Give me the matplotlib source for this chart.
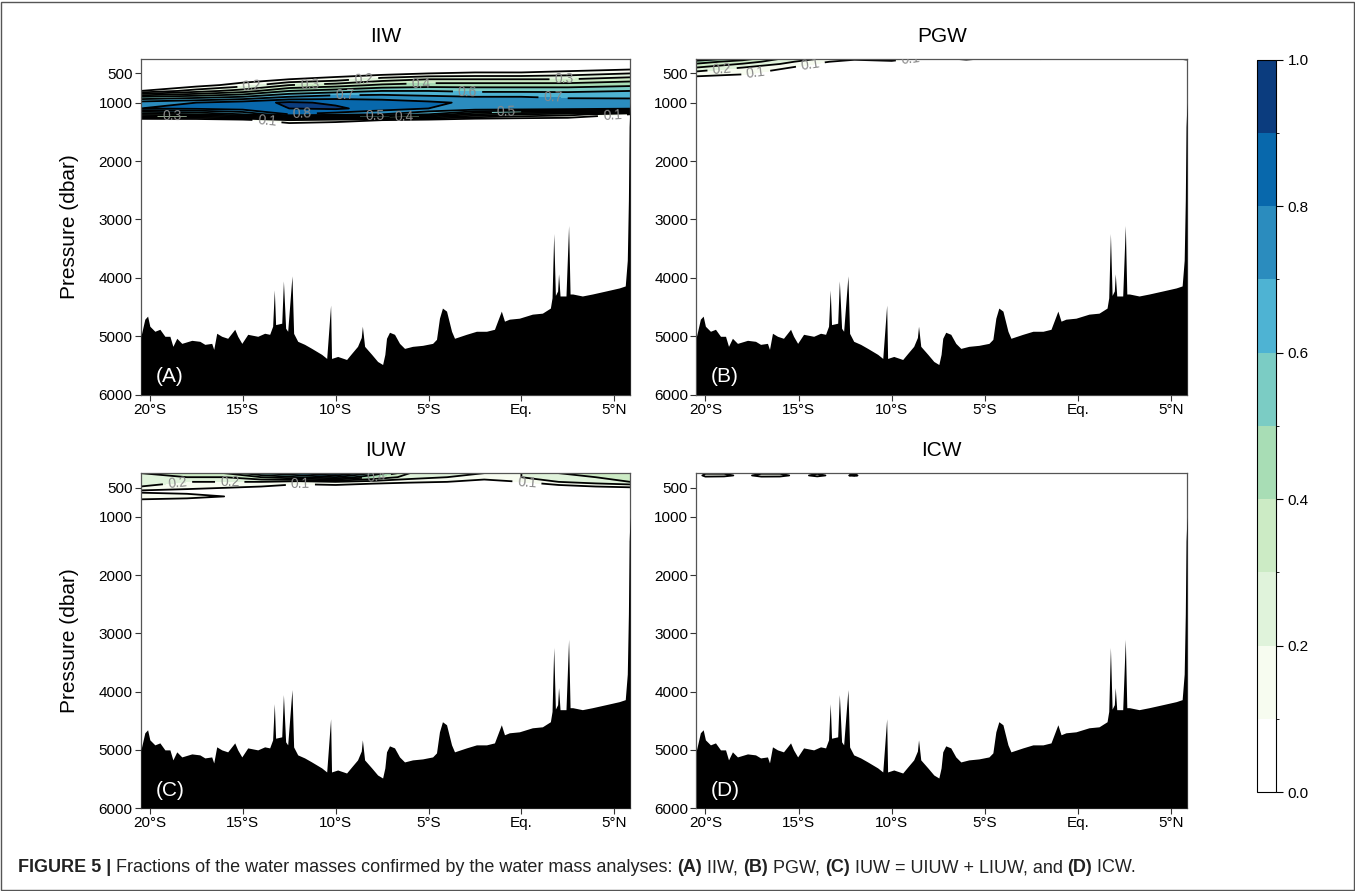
import numpy as np
import matplotlib.pyplot as plt
from matplotlib.colors import ListedColormap, BoundaryNorm
from matplotlib.cm import ScalarMappable
from matplotlib.patches import Rectangle

plt.rcParams['font.family'] = ['Liberation Sans', 'DejaVu Sans']

# Bathymetry along the section (latitude, bottom pressure in dbar)
bathy_lat = [-20.48, -20.27, -20.12, -20.0, -19.73, -19.46, -19.19, -18.92, -18.76, -18.55,
             -18.28, -17.74, -17.31, -17.04, -16.67, -16.56, -16.40, -16.13, -15.81, -15.43,
             -15.27, -15.05, -14.73, -14.19, -13.82, -13.55, -13.39, -13.30, -13.23, -12.90,
             -12.81, -12.69, -12.58, -12.35, -12.26, -12.04, -11.67, -11.29, -10.75, -10.48,
             -10.27, -10.22, -9.89, -9.41, -9.14, -8.82, -8.62, -8.56, -8.50, -8.44, -8.06, -7.74,
             -7.47, -7.35, -7.26, -7.10, -6.83, -6.56, -6.29, -5.86, -5.32, -4.78,
             -4.57, -4.41, -4.25, -4.03, -3.76, -3.60, -2.96, -2.42, -1.88, -1.45,
             -1.08, -0.91, -0.65, -0.11, 0.59, 1.13, 1.56, 1.65, 1.74, 1.83,
             1.95, 2.00, 2.08, 2.40, 2.54, 2.62, 2.76, 3.28, 3.82, 4.55,
             5.27, 5.59, 5.70, 5.76, 5.80, 5.85]
bathy_p = [5000, 4707, 4655, 4828, 4914, 4880, 5000, 5000, 5172, 5034,
           5121, 5069, 5086, 5138, 5121, 5224, 4948, 5000, 5034, 4880,
           5000, 5121, 4966, 5000, 4948, 4966, 4828, 4207, 4800, 4776,
           4052, 4862, 4914, 3966, 4950, 5086, 5138, 5207, 5310, 5379,
           4466, 5379, 5345, 5397, 5293, 5172, 5020, 4828, 5000, 5172, 5310, 5431,
           5483, 5310, 5034, 4931, 4966, 5121, 5207, 5172, 5155, 5121,
           5052, 4690, 4517, 4569, 4914, 5034, 4966, 4914, 4914, 4880,
           4569, 4741, 4707, 4690, 4621, 4604, 4517, 4340, 3241, 4300,
           4224, 3931, 4310, 4310, 3103, 4276, 4276, 4310, 4276, 4224,
           4172, 4138, 3700, 2672, 1414, 1000]

# IIW fraction
iiw_lat = [-20.5, -17.5, -15, -12.5, -10, -7.5, -5, -2.5, 0, 2.5, 5.85]
iiw_p = [250, 400, 500, 600, 700, 800, 900, 1000, 1100, 1200, 1300, 1400, 6000]
iiw_frac = [
    [0, 0, 0, 0, 0, 0, 0, 0, 0, 0, 0],
    [0, 0, 0, 0, 0, 0, 0, 0, 0, 0.02, 0.05],
    [0, 0, 0, 0, 0.02, 0.05, 0.1, 0.12, 0.12, 0.15, 0.2],
    [0, 0, 0.03, 0.1, 0.15, 0.25, 0.3, 0.3, 0.3, 0.3, 0.35],
    [0, 0.05, 0.15, 0.3, 0.35, 0.42, 0.45, 0.45, 0.45, 0.45, 0.48],
    [0.1, 0.25, 0.35, 0.5, 0.55, 0.6, 0.6, 0.58, 0.58, 0.58, 0.6],
    [0.5, 0.55, 0.6, 0.7, 0.75, 0.75, 0.72, 0.7, 0.7, 0.68, 0.68],
    [0.75, 0.8, 0.85, 0.92, 0.88, 0.85, 0.82, 0.78, 0.77, 0.76, 0.75],
    [0.8, 0.82, 0.85, 0.9, 0.92, 0.85, 0.8, 0.78, 0.78, 0.76, 0.72],
    [0.45, 0.5, 0.6, 0.8, 0.75, 0.7, 0.6, 0.4, 0.3, 0.25, 0.1],
    [0, 0, 0.05, 0.2, 0.15, 0.1, 0.05, 0, 0, 0, 0],
    [0, 0, 0, 0, 0, 0, 0, 0, 0, 0, 0],
    [0, 0, 0, 0, 0, 0, 0, 0, 0, 0, 0],
]

# PGW fraction
pgw_lat = [-20.5, -18, -16, -14, -12, -10, -8, -6, -4, -2, 0, 2, 4, 5.85]
pgw_p = [250, 300, 400, 500, 600, 700, 6000]
pgw_frac = [
    [0.6, 0.45, 0.3, 0.2, 0.12, 0.15, 0.05, 0.12, 0.05, 0.11, 0, 0, 0, 0.12],
    [0.45, 0.35, 0.25, 0.12, 0.06, 0.08, 0, 0.05, 0, 0.02, 0, 0, 0, 0.05],
    [0.3, 0.2, 0.12, 0.05, 0, 0, 0, 0, 0, 0, 0, 0, 0, 0],
    [0.15, 0.12, 0.05, 0, 0, 0, 0, 0, 0, 0, 0, 0, 0, 0],
    [0.05, 0, 0, 0, 0, 0, 0, 0, 0, 0, 0, 0, 0, 0],
    [0, 0, 0, 0, 0, 0, 0, 0, 0, 0, 0, 0, 0, 0],
    [0, 0, 0, 0, 0, 0, 0, 0, 0, 0, 0, 0, 0, 0],
]

# IUW (UIUW + LIUW) fraction
iuw_lat = [-20.5, -18, -16, -14, -12, -10, -8, -6, -4, -2, 0, 2, 4, 5.85]
iuw_p = [250, 320, 400, 480, 560, 650, 750, 850, 6000]
iuw_frac = [
    [0.3, 0.35, 0.4, 0.6, 0.7, 0.85, 0.6, 0.3, 0.25, 0.2, 0.2, 0.3, 0.35, 0.4],
    [0.25, 0.3, 0.3, 0.4, 0.5, 0.6, 0.4, 0.25, 0.2, 0.15, 0.2, 0.3, 0.3, 0.35],
    [0.25, 0.2, 0.2, 0.2, 0.15, 0.2, 0.15, 0.12, 0.1, 0.05, 0.1, 0.2, 0.25, 0.3],
    [0.2, 0.15, 0.12, 0.1, 0.05, 0.05, 0.02, 0, 0, 0, 0, 0.05, 0.1, 0.12],
    [0.08, 0.06, 0.05, 0.05, 0.02, 0, 0, 0, 0, 0, 0, 0, 0, 0],
    [0.15, 0.14, 0.1, 0.02, 0, 0, 0, 0, 0, 0, 0, 0, 0, 0],
    [0.05, 0.02, 0, 0, 0, 0, 0, 0, 0, 0, 0, 0, 0, 0],
    [0, 0, 0, 0, 0, 0, 0, 0, 0, 0, 0, 0, 0, 0],
    [0, 0, 0, 0, 0, 0, 0, 0, 0, 0, 0, 0, 0, 0],
]

# ICW fraction
icw_lat = [-20.5, -20, -19, -18, -17, -16, -15, -14, -13, -12, -11, 5.85]
icw_p = [250, 290, 330, 400, 6000]
icw_frac = [
    [0, 0.08, 0.08, 0.02, 0.08, 0.08, 0.02, 0.08, 0.02, 0.06, 0, 0],
    [0, 0.15, 0.15, 0.05, 0.15, 0.15, 0.05, 0.14, 0.05, 0.12, 0, 0],
    [0, 0.05, 0.03, 0, 0.05, 0.04, 0, 0.04, 0, 0.02, 0, 0],
    [0, 0, 0, 0, 0, 0, 0, 0, 0, 0, 0, 0],
    [0, 0, 0, 0, 0, 0, 0, 0, 0, 0, 0, 0],
]

titles = ['IIW', 'PGW', 'IUW', 'ICW']
letters = ['(A)', '(B)', '(C)', '(D)']
xticks = [-20, -15, -10, -5, 0, 5]
xticklabels = ['20°S', '15°S', '10°S', '5°S', 'Eq.', '5°N']
yticks = [500, 1000, 2000, 3000, 4000, 5000, 6000]

# where the contour labels sit (lat, pressure)
label_spots = [
    [(-18.8, 1240), (-14.5, 707), (-11.4, 707), (-9.5, 897), (-11.8, 1155), (-13.7, 1328),
     (-8.5, 569), (-7.9, 1241), (-5.4, 672), (-2.9, 845), (-6.3, 1241), (2.3, 569),
     (1.7, 966), (-0.8, 1155), (4.9, 1207)],
    [(-19.1, 448), (-17.3, 483), (-14.3, 483), (-8.9, 300)],
    [(-18.5, 448), (-15.7, 448), (-11.9, 500), (-7.8, 310), (0.3, 397)],
    None,
]

levels = np.arange(0, 1.01, 0.1)
colors = ['#ffffff', '#f7fcf0', '#e0f3db', '#ccebc5', '#a8ddb5', '#7bccc4',
          '#4eb3d3', '#2b8cbe', '#0868ac', '#0b3c7e']
cmap = ListedColormap(colors)
norm = BoundaryNorm(levels, cmap.N)

fig = plt.figure(figsize=(13.55, 8.91), dpi=100)
fig.patches.append(Rectangle((0.001, 0.001), 0.998, 0.997, transform=fig.transFigure,
                             fill=False, edgecolor='#555555', linewidth=1))

positions = [[0.104, 0.557, 0.361, 0.377], [0.514, 0.557, 0.362, 0.377],
             [0.104, 0.093, 0.361, 0.376], [0.514, 0.093, 0.362, 0.376]]
fields = [(iiw_lat, iiw_p, iiw_frac), (pgw_lat, pgw_p, pgw_frac),
          (iuw_lat, iuw_p, iuw_frac), (icw_lat, icw_p, icw_frac)]

for i in range(4):
    ax = fig.add_axes(positions[i])
    lat, p, frac = fields[i]
    X, Y = np.meshgrid(lat, p)
    Z = np.array(frac)
    ax.contourf(X, Y, Z, levels=levels, cmap=cmap, norm=norm)
    cs = ax.contour(X, Y, Z, levels=levels[1:-1], colors='black', linewidths=1.3)
    ax.fill_between(bathy_lat, bathy_p, 6000, color='black', linewidth=0, zorder=3)
    ax.set_xlim(-20.48, 5.85)
    ax.set_ylim(6000, 250)
    if label_spots[i] is not None:
        ax.clabel(cs, fmt='%.1f', fontsize=10, colors='#8a8a8a', inline=True,
                  manual=label_spots[i])
    ax.set_xticks(xticks)
    ax.set_xticklabels(xticklabels, fontsize=11)
    ax.set_yticks(yticks)
    ax.set_yticklabels([str(t) for t in yticks], fontsize=11)
    ax.tick_params(length=4, width=0.8, color='#333333', pad=2)
    for s in ax.spines.values():
        s.set_color('#555555')
        s.set_linewidth(0.9)
    ax.set_title(titles[i], fontsize=15, pad=12)
    ax.text(0.03, 0.025, letters[i], transform=ax.transAxes, color='white',
            fontsize=15, ha='left', va='bottom', zorder=5)
    if i % 2 == 0:
        ax.set_ylabel('Pressure (dbar)', fontsize=15, labelpad=14)

cax = fig.add_axes([0.928, 0.111, 0.0135, 0.822])
cb = fig.colorbar(ScalarMappable(norm=norm, cmap=cmap), cax=cax,
                  ticks=[0, 0.2, 0.4, 0.6, 0.8, 1.0])
cb.ax.set_yticklabels(['0.0', '0.2', '0.4', '0.6', '0.8', '1.0'], fontsize=11)
cb.outline.set_linewidth(0.8)
cb.ax.tick_params(length=5, width=0.8)

# Caption with mixed bold / normal pieces
caption = [('FIGURE 5 | ', 'bold'),
           ('Fractions of the water masses confirmed by the water mass analyses: ', 'normal'),
           ('(A)', 'bold'), (' IIW, ', 'normal'), ('(B)', 'bold'), (' PGW, ', 'normal'),
           ('(C)', 'bold'), (' IUW = UIUW + LIUW, and ', 'normal'), ('(D)', 'bold'),
           (' ICW.', 'normal')]
fig.canvas.draw()
renderer = fig.canvas.get_renderer()
xpos = 18 / 1355
for txt, w in caption:
    t = fig.text(xpos, 1 - 868 / 891, txt, fontsize=13, fontweight=w, va='center',
                 ha='left', color='#222222')
    bb = t.get_window_extent(renderer)
    xpos += bb.width / fig.bbox.width

fig.savefig('out.png', dpi=100)
